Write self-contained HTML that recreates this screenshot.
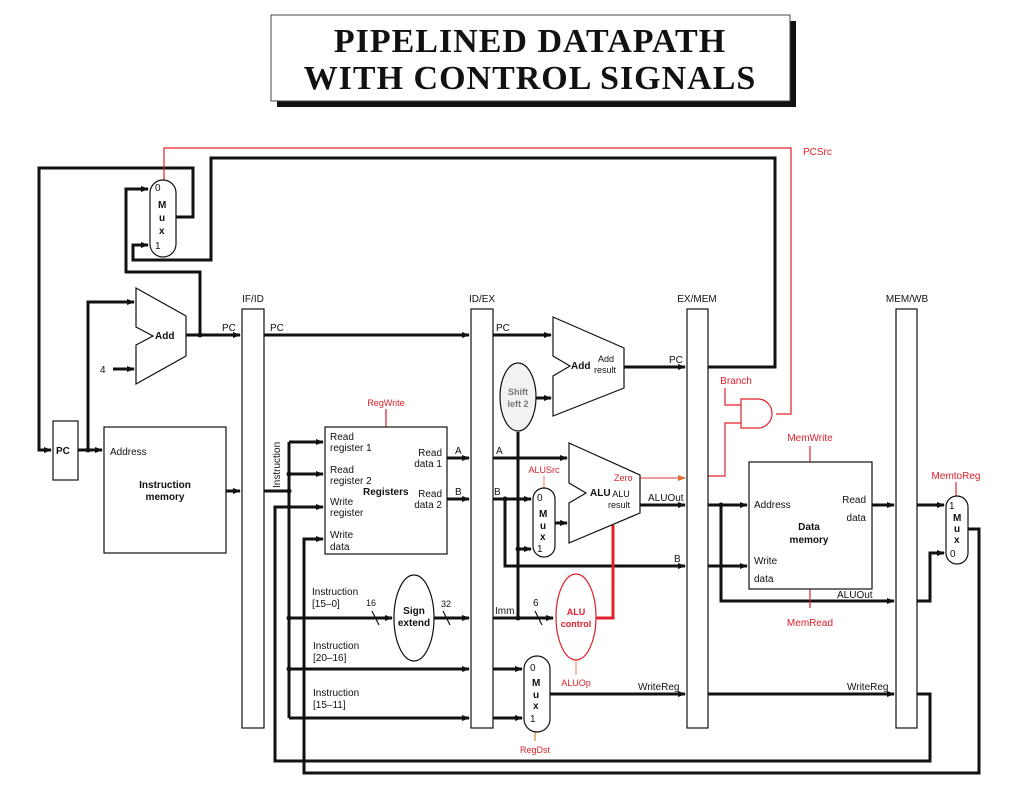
<!DOCTYPE html>
<html><head><meta charset="utf-8"><style>
html,body{margin:0;padding:0;background:#fff;}
svg{display:block;}
text{font-family:"Liberation Sans",sans-serif;font-size:10px;fill:#111;}
.b{font-weight:bold;}
.r{fill:#e0202a;}
.t{font-family:"Liberation Serif",serif;font-size:34px;font-weight:bold;fill:#111;letter-spacing:1px;}
</style></head><body>
<svg width="1021" height="807" viewBox="0 0 1021 807" xmlns="http://www.w3.org/2000/svg">
<defs>
<marker id="a" markerWidth="8" markerHeight="8" refX="7" refY="4" orient="auto" markerUnits="userSpaceOnUse"><path d="M0,1 L8,4 L0,7 z" fill="#111"/></marker>
<marker id="o" markerWidth="8" markerHeight="8" refX="7" refY="4" orient="auto" markerUnits="userSpaceOnUse"><path d="M0,1 L8,4 L0,7 z" fill="#e07030"/></marker>
</defs>
<rect x="277" y="21" width="519" height="86" fill="#111"/>
<rect x="271" y="15" width="519" height="86" fill="#fff" stroke="#444" stroke-width="1"/>
<text class="t" x="530" y="52" text-anchor="middle">PIPELINED DATAPATH</text>
<text class="t" x="530" y="89" text-anchor="middle">WITH CONTROL SIGNALS</text>

<g fill="none" stroke="#111" stroke-width="3">
<polyline points="708,367 775,367 775,158 211,158 211,260 133,260 133,245 148,245" marker-end="url(#a)"/>
<polyline points="176,217 193,217 193,168 39,168 39,450 51,450" marker-end="url(#a)"/>
<polyline points="200,335 200,272 126,272 126,189 148,189" marker-end="url(#a)"/>
<polyline points="78,450 102,450" marker-end="url(#a)"/>
<polyline points="88,450 88,302 134,302" marker-end="url(#a)"/>
<polyline points="113,369 134,369" marker-end="url(#a)"/>
<polyline points="186,335 240,335" marker-end="url(#a)"/>
<polyline points="264,335 469,335" marker-end="url(#a)"/>
<polyline points="226,491 240,491" marker-end="url(#a)"/>
<polyline points="264,491 289,491"/>
<polyline points="289,442 289,718"/>
<polyline points="289,442 323,442" marker-end="url(#a)"/>
<polyline points="289,474 323,474" marker-end="url(#a)"/>
<polyline points="289,618 392,618" marker-end="url(#a)"/>
<polyline points="289,669 469,669" marker-end="url(#a)"/>
<polyline points="289,718 469,718" marker-end="url(#a)"/>
<polyline points="434,618 469,618" marker-end="url(#a)"/>
<polyline points="917,694 930,694 930,761 275,761 275,507 323,507" marker-end="url(#a)"/>
<polyline points="968,529 979,529 979,773 304,773 304,539 323,539" marker-end="url(#a)"/>
<polyline points="447,458 469,458" marker-end="url(#a)"/>
<polyline points="447,499 469,499" marker-end="url(#a)"/>
<polyline points="493,458 567,458" marker-end="url(#a)"/>
<polyline points="493,499 531,499" marker-end="url(#a)"/>
<polyline points="505,499 505,566 685,566" marker-end="url(#a)"/>
<polyline points="518,432 518,618"/>
<polyline points="518,549 531,549" marker-end="url(#a)"/>
<polyline points="493,618 553,618" marker-end="url(#a)"/>
<polyline points="555,523 567,523" marker-end="url(#a)"/>
<polyline points="493,335 551,335" marker-end="url(#a)"/>
<polyline points="536,398 551,398" marker-end="url(#a)"/>
<polyline points="624,367 685,367" marker-end="url(#a)"/>
<polyline points="640,505 685,505" marker-end="url(#a)"/>
<polyline points="493,669 522,669" marker-end="url(#a)"/>
<polyline points="493,718 522,718" marker-end="url(#a)"/>
<polyline points="550,694 685,694" marker-end="url(#a)"/>
<polyline points="708,694 894,694" marker-end="url(#a)"/>
<polyline points="708,505 747,505" marker-end="url(#a)"/>
<polyline points="721,505 721,601 894,601" marker-end="url(#a)"/>
<polyline points="708,566 747,566" marker-end="url(#a)"/>
<polyline points="872,505 894,505" marker-end="url(#a)"/>
<polyline points="917,505 944,505" marker-end="url(#a)"/>
<polyline points="917,601 930,601 930,553 944,553" marker-end="url(#a)"/>
</g>
<g fill="#111">
<circle cx="200" cy="335" r="2.5"/><circle cx="88" cy="450" r="2.5"/>
<circle cx="289" cy="491" r="2.5"/><circle cx="289" cy="474" r="2.5"/><circle cx="289" cy="618" r="2.5"/><circle cx="289" cy="669" r="2.5"/>
<circle cx="505" cy="499" r="2.5"/><circle cx="518" cy="549" r="2.5"/><circle cx="518" cy="618" r="2.5"/><circle cx="721" cy="505" r="2.5"/>
</g>
<g stroke="#111" stroke-width="1.2">
<line x1="372" y1="611" x2="379" y2="625"/><line x1="443" y1="611" x2="450" y2="625"/><line x1="535" y1="611" x2="542" y2="625"/>
</g>
<g fill="none" stroke="#e0202a" stroke-width="1.2">
<polyline points="164,181 164,148 791,148 791,414 776,414"/>
<polyline points="725,388 725,405 741,405"/>
<polyline points="741,423 725,423 725,476 708,476"/>
<path d="M741,399 L758,399 A14,14.5 0 0 1 758,428 L741,428 Z"/>
<line x1="386" y1="409" x2="386" y2="427"/>
<line x1="544" y1="476" x2="544" y2="488" stroke="#f09090"/>
<line x1="810" y1="446" x2="810" y2="462"/>
<line x1="810" y1="589" x2="810" y2="608"/>
<line x1="956" y1="482" x2="956" y2="496"/>
<line x1="576" y1="660" x2="576" y2="675" stroke="#f09090"/>
<line x1="535" y1="732" x2="535" y2="741" stroke="#e08030"/>
<polyline points="640,478 685,478" stroke="#e06060" marker-end="url(#o)"/>
<ellipse cx="576" cy="617" rx="20" ry="43"/>
<polyline points="596,618 613,618 613,525" stroke-width="3"/>
</g>
<g fill="#fff" stroke="#111" stroke-width="1.2">
<rect x="242" y="309" width="22" height="419"/>
<rect x="471" y="309" width="22" height="419"/>
<rect x="687" y="309" width="21" height="419"/>
<rect x="896" y="309" width="21" height="419"/>
<rect x="53" y="421" width="25" height="59"/>
<rect x="104" y="427" width="122" height="126"/>
<rect x="325" y="427" width="122" height="127"/>
<rect x="749" y="462" width="123" height="127"/>
<rect x="150" y="180" width="26" height="77" rx="13"/>
<rect x="533" y="488" width="22" height="69" rx="11"/>
<rect x="524" y="656" width="26" height="76" rx="13"/>
<rect x="946" y="496" width="22" height="68" rx="11"/>
<path d="M136,288 L186,316 L186,356 L136,384 L136,345 L153,336 L136,327 Z"/>
<path d="M553,317 L624,348 L624,388 L553,416 L553,376 L570,366 L553,356 Z"/>
<path d="M569,443 L640,475 L640,513 L569,543 L569,503 L586,493 L569,483 Z"/>
<ellipse cx="518" cy="397" rx="18" ry="34" fill="#f2f2f2"/>
<ellipse cx="414" cy="618" rx="20" ry="43"/>
</g>
<text x="803" y="155" class="r">PCSrc</text>
<text x="155" y="191">0</text><text x="158" y="208" class="b">M</text><text x="159" y="221" class="b">u</text><text x="159" y="234" class="b">x</text><text x="155" y="249">1</text>
<text x="155" y="339" class="b">Add</text>
<text x="100" y="373">4</text>
<text x="56" y="454" class="b">PC</text>
<text x="110" y="455">Address</text>
<text x="165" y="488" class="b" text-anchor="middle">Instruction</text>
<text x="165" y="500" class="b" text-anchor="middle">memory</text>
<text x="253" y="302" text-anchor="middle">IF/ID</text>
<text x="482" y="302" text-anchor="middle">ID/EX</text>
<text x="697" y="302" text-anchor="middle">EX/MEM</text>
<text x="907" y="302" text-anchor="middle">MEM/WB</text>
<text x="222" y="331">PC</text><text x="270" y="331">PC</text><text x="496" y="331">PC</text><text x="669" y="363">PC</text>
<text x="280" y="488" transform="rotate(-90 280 488)">Instruction</text>
<text x="386" y="406" class="r" text-anchor="middle" style="font-size:9px">RegWrite</text>
<text x="330" y="440">Read</text><text x="330" y="451">register 1</text>
<text x="330" y="473">Read</text><text x="330" y="484">register 2</text>
<text x="330" y="505">Write</text><text x="330" y="516">register</text>
<text x="330" y="538">Write</text><text x="330" y="550">data</text>
<text x="363" y="495" class="b">Registers</text>
<text x="442" y="456" text-anchor="end">Read</text><text x="442" y="467" text-anchor="end">data 1</text>
<text x="442" y="497" text-anchor="end">Read</text><text x="442" y="508" text-anchor="end">data 2</text>
<text x="455" y="454">A</text><text x="455" y="495">B</text><text x="496" y="454">A</text><text x="494" y="495">B</text>
<text x="518" y="395" class="b" text-anchor="middle" style="font-size:9px;fill:#777">Shift</text>
<text x="518" y="407" class="b" text-anchor="middle" style="font-size:9px;fill:#777">left 2</text>
<text x="571" y="369" class="b">Add</text>
<text x="606" y="362" text-anchor="middle" style="font-size:9px">Add</text><text x="605" y="373" text-anchor="middle" style="font-size:9px">result</text>
<text x="544" y="473" class="r" text-anchor="middle" style="font-size:9px">ALUSrc</text>
<text x="537" y="501">0</text><text x="539" y="517" class="b">M</text><text x="540" y="529" class="b">u</text><text x="540" y="540" class="b">x</text><text x="537" y="552">1</text>
<text x="590" y="496" class="b">ALU</text>
<text x="614" y="481" class="r" style="font-size:9px">Zero</text>
<text x="621" y="497" text-anchor="middle" style="font-size:9px">ALU</text><text x="619" y="508" text-anchor="middle" style="font-size:9px">result</text>
<text x="648" y="501">ALUOut</text>
<text x="674" y="562">B</text>
<text x="576" y="615" class="r b" text-anchor="middle" style="font-size:9px">ALU</text>
<text x="576" y="627" class="r b" text-anchor="middle" style="font-size:9px">control</text>
<text x="576" y="686" class="r" text-anchor="middle" style="font-size:9px">ALUOp</text>
<text x="495" y="614">Imm</text><text x="533" y="606">6</text>
<text x="414" y="614" class="b" text-anchor="middle">Sign</text><text x="414" y="626" class="b" text-anchor="middle">extend</text>
<text x="366" y="606" style="font-size:9px">16</text><text x="441" y="607" style="font-size:9px">32</text>
<text x="312" y="595">Instruction</text><text x="312" y="607">[15–0]</text>
<text x="313" y="649">Instruction</text><text x="313" y="661">[20–16]</text>
<text x="313" y="696">Instruction</text><text x="313" y="708">[15–11]</text>
<text x="530" y="671">0</text><text x="532" y="686" class="b">M</text><text x="533" y="698" class="b">u</text><text x="533" y="709" class="b">x</text><text x="530" y="722">1</text>
<text x="535" y="753" class="r" text-anchor="middle" style="font-size:9px">RegDst</text>
<text x="638" y="690">WriteReg</text><text x="847" y="690">WriteReg</text>
<text x="736" y="384" class="r" text-anchor="middle">Branch</text>
<text x="810" y="441" class="r" text-anchor="middle">MemWrite</text>
<text x="810" y="626" class="r" text-anchor="middle">MemRead</text>
<text x="956" y="479" class="r" text-anchor="middle">MemtoReg</text>
<text x="754" y="508">Address</text>
<text x="866" y="503" text-anchor="end">Read</text><text x="866" y="521" text-anchor="end">data</text>
<text x="754" y="564">Write</text><text x="754" y="582">data</text>
<text x="809" y="530" class="b" text-anchor="middle">Data</text><text x="809" y="543" class="b" text-anchor="middle">memory</text>
<text x="837" y="598">ALUOut</text>
<text x="949" y="509">1</text><text x="953" y="521" class="b">M</text><text x="954" y="532" class="b">u</text><text x="954" y="543" class="b">x</text><text x="950" y="557">0</text>
</svg>
</body></html>
